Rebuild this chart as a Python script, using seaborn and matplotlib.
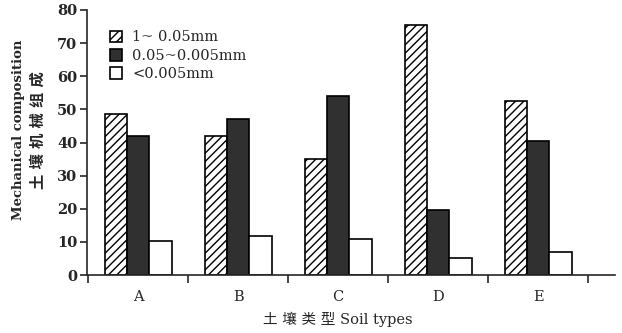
import matplotlib
matplotlib.use("Agg")
import matplotlib.pyplot as plt
import seaborn as sns
import pandas as pd

categories = ["A", "B", "C", "D", "E"]
series_names = ["1~ 0.05mm", "0.05~0.005mm", "<0.005mm"]
coarse = [48.5, 42, 35, 75.5, 52.5]
medium = [42, 47, 54, 19.5, 40.5]
fine = [10.3, 11.8, 11, 5, 7]
yticks = [0, 10, 20, 30, 40, 50, 60, 70, 80]

rows = []
for name, vals in zip(series_names, [coarse, medium, fine]):
    for c, v in zip(categories, vals):
        rows.append({"soil": c, "fraction": name, "value": v})
df = pd.DataFrame(rows)

sns.set_style("ticks")
plt.rcParams["font.family"] = ["DejaVu Serif", "Noto Sans CJK SC"]
plt.rcParams["hatch.linewidth"] = 1.0

fig = plt.figure(figsize=(6.22, 3.33), dpi=100)
ax = fig.add_axes([0.14, 0.174, 0.849, 0.796])

sns.barplot(data=df, x="soil", y="value", hue="fraction", order=categories,
            hue_order=series_names, palette=["white", "#303030", "white"],
            edgecolor="black", linewidth=1.2, width=0.67, saturation=1,
            legend=False, ax=ax)

for bar in ax.containers[0]:
    bar.set_hatch("////")

ax.set_ylim(0, 80)
ax.set_xlim(-0.51, 4.77)
ax.set_yticks(yticks)
ax.set_yticklabels([str(t) for t in yticks], fontsize=10.5, fontweight="bold")
ax.tick_params(axis="y", direction="out", length=5, width=1.2, pad=2)
ax.tick_params(axis="x", which="major", length=0, pad=11, labelsize=10.5)
ax.set_xticks([i - 0.5 for i in range(6)], minor=True)
ax.tick_params(axis="x", which="minor", direction="out", length=6, width=1.2)

sns.despine(ax=ax)
for s in ["left", "bottom"]:
    ax.spines[s].set_linewidth(1.2)

ax.set_xlabel("土 壤 类 型 Soil types", fontsize=10.5)
ax.xaxis.set_label_coords(0.475, -0.14)
ax.set_ylabel("Mechanical composition", fontsize=9.5, fontweight="bold")
ax.yaxis.set_label_coords(-0.1174, 0.547)
ax.text(-0.0928, 0.547, "土 壤 机 械 组 成", transform=ax.transAxes,
        rotation=90, ha="center", va="center", fontsize=11, fontweight="bold")

ax.legend(ax.containers, series_names, loc="upper left",
          bbox_to_anchor=(0.032, 0.945), frameon=False, fontsize=10.5,
          handlelength=0.85, handleheight=0.85, handletextpad=0.7,
          labelspacing=0.3, borderaxespad=0)

fig.savefig("out.png", dpi=100)
